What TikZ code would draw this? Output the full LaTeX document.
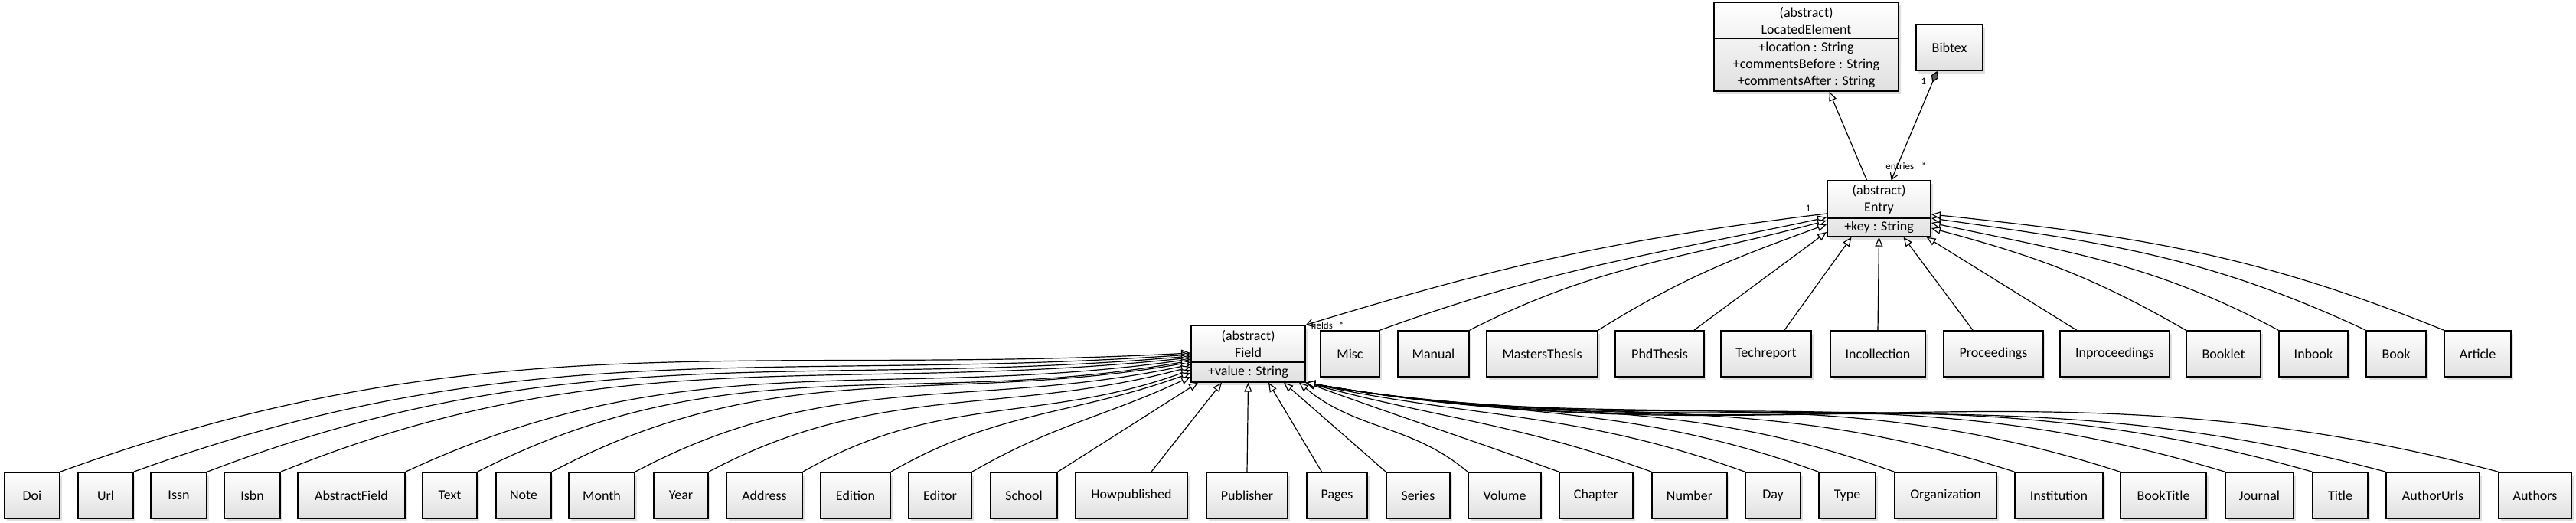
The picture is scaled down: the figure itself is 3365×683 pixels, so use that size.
\documentclass[tikz,border=0pt]{standalone}
\usepackage{fontspec}
\setmainfont{Carlito}
\usepackage{tikz}
\usetikzlibrary{arrows.meta,shapes.multipart,shadows}
\newcommand{\cpart}[3]{\parbox[c][#1][c]{#2}{\centering #3}}

\begin{document}
\begin{tikzpicture}[x=0.5pt,y=0.5pt,font=\fontsize{9}{11}\selectfont,
  klass/.style={draw,line width=0.9pt,minimum width=#1,minimum height=30pt,inner sep=1pt,
    top color=white,bottom color=black!12,
    drop shadow={shadow xshift=1.5pt,shadow yshift=-2pt,opacity=0.25}},
  split/.style={rectangle split,rectangle split parts=2,minimum height=0pt,inner xsep=2pt,inner ysep=1.8pt},
  gen/.style={-{Triangle[length=6pt,width=5pt,fill=white]},line width=0.6pt},
  assoc/.style={-{Straight Barb[length=4pt,width=5pt]},line width=0.6pt},
  mult/.style={font=\fontsize{6.5}{7}\selectfont,inner sep=0pt}]
\useasboundingbox (0,0) rectangle (3365,683);
% classes
\node[klass=120.5pt,split] (located) at (2359.5,622)
  {\cpart{18.9pt}{116.5pt}{(abstract)\\LocatedElement}\nodepart{second}\cpart{29.9pt}{116.5pt}{+location : String\\+commentsBefore : String\\+commentsAfter : String}};
\node[klass=43.5pt] (bibtex) at (2546.5,621) {Bibtex};
\node[klass=67.5pt,split] (entry) at (2454.5,410.5)
  {\cpart{19.9pt}{63.5pt}{(abstract)\\Entry}\nodepart{second}\cpart{7.4pt}{63.5pt}{+key : String}};
\node[klass=74.5pt,split] (field) at (1630.5,221)
  {\cpart{19.4pt}{70.5pt}{(abstract)\\Field}\nodepart{second}\cpart{8.4pt}{70.5pt}{+value : String}};
% entry types
\node[klass=38.5pt] (misc) at (1763.5,221) {Misc};
\node[klass=46.5pt] (manual) at (1872.5,221) {Manual};
\node[klass=72.5pt] (masters) at (2014.5,221) {MastersThesis};
\node[klass=58pt] (phd) at (2168,221) {PhdThesis};
\node[klass=59pt] (techreport) at (2307,221) {Techreport};
\node[klass=62pt] (incollection) at (2453,221) {Incollection};
\node[klass=65pt] (proceedings) at (2604,221) {Proceedings};
\node[klass=71.5pt] (inproceedings) at (2762.5,221) {Inproceedings};
\node[klass=48.5pt] (booklet) at (2904.5,221) {Booklet};
\node[klass=45pt] (inbook) at (3022,221) {Inbook};
\node[klass=39pt] (book) at (3130,221) {Book};
\node[klass=43.5pt] (article) at (3236.5,221) {Article};
% field types
\node[klass=36pt] (doi) at (42,36) {Doi};
\node[klass=36pt] (url) at (138,36) {Url};
\node[klass=36.5pt] (issn) at (233.5,36) {Issn};
\node[klass=36.5pt] (isbn) at (329.5,36) {Isbn};
\node[klass=70pt] (abstr) at (459,36) {AbstractField};
\node[klass=35.5pt] (txt) at (587.5,36) {Text};
\node[klass=36pt] (note) at (684,36) {Note};
\node[klass=43pt] (month) at (786,36) {Month};
\node[klass=35.5pt] (year) at (889.5,36) {Year};
\node[klass=49.5pt] (address) at (998.5,36) {Address};
\node[klass=45.5pt] (edition) at (1117.5,36) {Edition};
\node[klass=41pt] (editor) at (1228,36) {Editor};
\node[klass=43.5pt] (school) at (1337.5,36) {School};
\node[klass=73pt] (howpub) at (1478,36) {Howpublished};
\node[klass=53pt] (publisher) at (1629,36) {Publisher};
\node[klass=39.5pt] (pages) at (1746.5,36) {Pages};
\node[klass=41.5pt] (series) at (1852.5,36) {Series};
\node[klass=47.5pt] (volume) at (1965.5,36) {Volume};
\node[klass=48pt] (chapter) at (2085,36) {Chapter};
\node[klass=49pt] (number) at (2207,36) {Number};
\node[klass=36pt] (day) at (2316,36) {Day};
\node[klass=37pt] (type) at (2413,36) {Type};
\node[klass=66.5pt] (org) at (2541.5,36) {Organization};
\node[klass=57.5pt] (institution) at (2689.5,36) {Institution};
\node[klass=56pt] (booktitle) at (2826,36) {BookTitle};
\node[klass=44.5pt] (journal) at (2951.5,36) {Journal};
\node[klass=36pt] (title) at (3057,36) {Title};
\node[klass=61pt] (authorurls) at (3178,36) {AuthorUrls};
\node[klass=47.5pt] (authors) at (3311.5,36) {Authors};
% multiplicities
\node[mult] (m1) at (2513,577) {1};
\node[mult] (m2) at (2490,466) {entries\hspace{5pt}*};
\node[mult] (m3) at (2362,411) {1};
\node[mult] (m4) at (1734,258) {fields\hspace{4pt}*};
% associations
\draw[gen] ([xshift=-8pt]entry.north) -- ([xshift=15pt]located.south);
\draw[{Diamond[length=8pt,width=5pt,fill=black!65]}-{Straight Barb[length=4pt,width=5pt]},line width=0.6pt]
  ([xshift=-8pt]bibtex.south) -- ([xshift=8pt]entry.north);
\draw[assoc] ([yshift=-3.25pt]entry.west) to[out=187,in=17] (field.north east);
% entry subclasses
\draw[gen] (misc.north east) to[out=20,in=192] ([yshift=-5.75pt]entry.west);
\draw[gen] (manual.north east) to[out=27,in=195] ([yshift=-7.75pt]entry.west);
\draw[gen] (masters.north east) to[out=32,in=200] ([yshift=-10.25pt]entry.west);
\draw[gen] ([xshift=22.5pt]phd.north) -- ([yshift=-15.25pt]entry.west);
\draw[gen] ([xshift=12pt]techreport.north) -- ([xshift=-18pt]entry.south);
\draw[gen] (incollection.north) -- (entry.south);
\draw[gen] ([xshift=-13.5pt]proceedings.north) -- ([xshift=16pt]entry.south);
\draw[gen] ([xshift=-25pt]inproceedings.north) -- ([xshift=31pt]entry.south);
\draw[gen] (booklet.north west) to[out=150,in=-15] ([yshift=-12.75pt]entry.east);
\draw[gen] (inbook.north west) to[out=152,in=-12] ([yshift=-9.25pt]entry.east);
\draw[gen] (book.north west) to[out=155,in=-8] ([yshift=-6.25pt]entry.east);
\draw[gen] (article.north west) to[out=158,in=-6] ([yshift=-3.75pt]entry.east);
% field subclasses
\draw[gen] (doi.north east) to[out=20,in=183] ([yshift=0.5pt]field.west);
\draw[gen] (url.north east) to[out=20,in=184] ([yshift=-0.5pt]field.west);
\draw[gen] (issn.north east) to[out=21,in=185] ([yshift=-1.5pt]field.west);
\draw[gen] (isbn.north east) to[out=22,in=186] ([yshift=-2.5pt]field.west);
\draw[gen] (abstr.north east) to[out=25,in=188] ([yshift=-3.5pt]field.west);
\draw[gen] (txt.north east) to[out=27,in=190] ([yshift=-4.5pt]field.west);
\draw[gen] (note.north east) to[out=28,in=190] ([yshift=-5.5pt]field.west);
\draw[gen] (month.north east) to[out=28,in=192] ([yshift=-7pt]field.west);
\draw[gen] (year.north east) to[out=28,in=195] ([yshift=-8.5pt]field.west);
\draw[gen] (address.north east) to[out=30,in=200] ([yshift=-10.5pt]field.west);
\draw[gen] (edition.north east) to[out=30,in=200] ([yshift=-12.5pt]field.west);
\draw[gen] (editor.north east) to[out=30,in=205] ([yshift=-15pt]field.west);
\draw[gen] (school.north east) -- ([xshift=-32.75pt]field.south);
\draw[gen] ([xshift=13pt]howpub.north) -- ([xshift=-17.25pt]field.south);
\draw[gen] (publisher.north) -- (field.south);
\draw[gen] ([xshift=-10pt]pages.north) -- ([xshift=13.25pt]field.south);
\draw[gen] (series.north west) -- ([xshift=23.25pt]field.south);
\draw[gen] (volume.north west) to[out=140,in=-40] ([xshift=33.25pt]field.south);
\draw[gen] (chapter.north west) to[out=160,in=-20] (field.south east);
\draw[gen] (number.north west) to[out=160,in=-15] (field.south east);
\draw[gen] (day.north west) to[out=160,in=-12] (field.south east);
\draw[gen] (type.north west) to[out=160,in=-10] (field.south east);
\draw[gen] (org.north west) to[out=160,in=-10] (field.south east);
\draw[gen] (institution.north west) to[out=162,in=-10] (field.south east);
\draw[gen] (booktitle.north west) to[out=162,in=-10] (field.south east);
\draw[gen] (journal.north west) to[out=163,in=-10] (field.south east);
\draw[gen] (title.north west) to[out=164,in=-10] (field.south east);
\draw[gen] (authorurls.north west) to[out=165,in=-10] (field.south east);
\draw[gen] (authors.north west) to[out=165,in=-10] (field.south east);
\end{tikzpicture}
\end{document}
